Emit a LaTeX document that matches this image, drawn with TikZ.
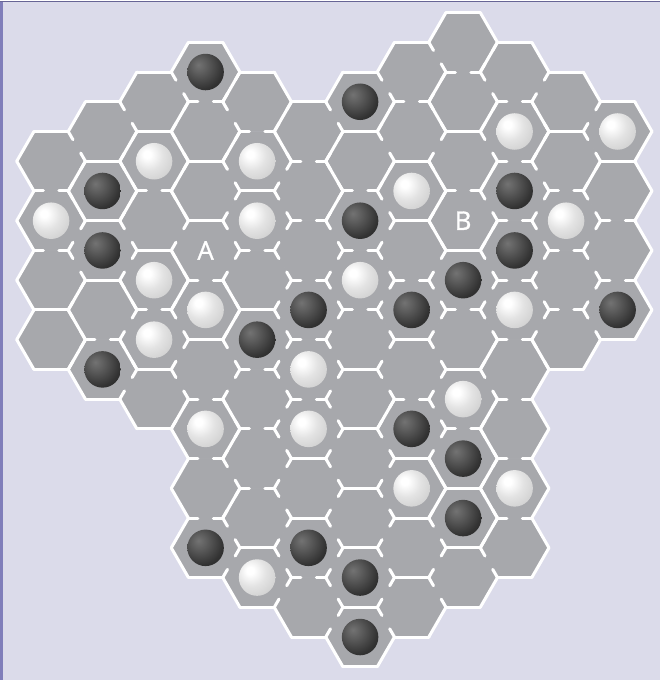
\documentclass[tikz,border=0pt]{standalone}
\usepackage{fontspec}
\newfontfamily\labelfont{Open Sans}[FakeBold=1.2]
\usepackage{tikz}
\usetikzlibrary{calc}
\definecolor{BoardLilac}{RGB}{219,219,234}
\definecolor{FrameLilac}{RGB}{128,126,186}
\definecolor{CellGray}{RGB}{167,168,172}
\pgfdeclareradialshading{blackstone}{\pgfpoint{-10bp}{10bp}}{color(0bp)=(black!55); color(10bp)=(black!63); color(30bp)=(black!80); color(50bp)=(black!90); color(62bp)=(black!93); color(100bp)=(black!93)}
\pgfdeclareradialshading{whitestone}{\pgfpoint{-10bp}{10bp}}{color(0bp)=(white); color(5bp)=(white); color(20bp)=(black!11); color(35bp)=(black!18); color(50bp)=(black!25); color(60bp)=(black!31); color(100bp)=(black!31)}
\tikzset{
  cell/.style={fill=CellGray,draw=CellGray,line width=0.4pt},
  wall/.style={draw=white,line width=2.6pt,line cap=round},
  stubs/.style={wall,dash pattern=on 8.1pt off 13.2pt},
  bstone/.style={circle,inner sep=0pt,minimum size=1.1cm,shade,shading=blackstone},
  wstone/.style={circle,inner sep=0pt,minimum size=1.1cm,shade,shading=whitestone},
  letter/.style={text=white,font=\labelfont\fontsize{22}{22}\selectfont},
}
\def\lolist{{99,4,3,2,1,2,3,2,1,0,1,2,3,99}}
\def\hilist{{-99,10,11,12,17,18,19,20,19,18,17,10,9,-99}}

\begin{document}
\begin{tikzpicture}[x=0.03cm,y=-0.03cm]
\fill[BoardLilac] (0,0) rectangle (662,681);
\draw[FrameLilac,line width=2.2pt] (1.2,0) -- (1.2,681);
\draw[FrameLilac!80!black,line width=0.8pt] (0,0.4) -- (662,0.4);
\useasboundingbox (0,0) rectangle (662,681);

\foreach \c in {1,...,12}{
  \pgfmathtruncatemacro\nlo{\lolist[\c]}
  \pgfmathtruncatemacro\nhi{\hilist[\c]}
  \pgfmathtruncatemacro\nsec{\nlo+2}
  \foreach \n in {\nlo,\nsec,...,\nhi}{
    \coordinate (h\c-\n) at ({50.8+51.7*(\c-1)},{41.15+29.85*\n});
    \fill[cell] (h\c-\n) +(34.47,0) -- +(17.23,29.85) -- +(-17.23,29.85) -- +(-34.47,0)
      -- +(-17.23,-29.85) -- +(17.23,-29.85) -- cycle;
  }
}

\foreach \c in {1,...,12}{
  \pgfmathtruncatemacro\nlo{\lolist[\c]}
  \pgfmathtruncatemacro\nhi{\hilist[\c]}
  \pgfmathtruncatemacro\nsec{\nlo+2}
  \pgfmathtruncatemacro\cR{\c+1}
  \pgfmathtruncatemacro\cL{\c-1}
  \foreach \n in {\nlo,\nsec,...,\nhi}{
    \pgfmathtruncatemacro\hasN{\n-2>=\nlo}
    \pgfmathtruncatemacro\hasS{\n+2<=\nhi}
    \pgfmathtruncatemacro\hasNE{and(\n-1>=\lolist[\cR],\n-1<=\hilist[\cR])}
    \pgfmathtruncatemacro\hasSE{and(\n+1>=\lolist[\cR],\n+1<=\hilist[\cR])}
    \pgfmathtruncatemacro\hasNW{and(\n-1>=\lolist[\cL],\n-1<=\hilist[\cL])}
    \pgfmathtruncatemacro\hasSW{and(\n+1>=\lolist[\cL],\n+1<=\hilist[\cL])}
    \ifnum\hasS=1 \draw[stubs] (h\c-\n) +(17.23,29.85) -- +(-17.23,29.85);
    \else \draw[wall] (h\c-\n) +(17.23,29.85) -- +(-17.23,29.85); \fi
    \ifnum\hasNE=1 \draw[stubs] (h\c-\n) +(17.23,-29.85) -- +(34.47,0);
    \else \draw[wall] (h\c-\n) +(17.23,-29.85) -- +(34.47,0); \fi
    \ifnum\hasSE=1 \draw[stubs] (h\c-\n) +(34.47,0) -- +(17.23,29.85);
    \else \draw[wall] (h\c-\n) +(34.47,0) -- +(17.23,29.85); \fi
    \ifnum\hasN=0 \draw[wall] (h\c-\n) +(-17.23,-29.85) -- +(17.23,-29.85); \fi
    \ifnum\hasNW=0 \draw[wall] (h\c-\n) +(-34.47,0) -- +(-17.23,-29.85); \fi
    \ifnum\hasSW=0 \draw[wall] (h\c-\n) +(-17.23,29.85) -- +(-34.47,0); \fi
  }
}

% full walls: south, north-east, south-east sides
\foreach \c/\n in {1/8,2/3,2/5,2/7,3/2,3/6,3/10,4/3,4/5,4/9,5/4,5/8,5/16,6/13,6/15,
                   7/2,7/10,7/12,7/14,7/16,7/18,8/3,8/5,8/9,8/13,8/15,8/17,
                   9/2,9/6,9/10,9/14,9/16,11/2,12/3}
  \draw[wall] (h\c-\n) +(17.23,29.85) -- +(-17.23,29.85);
\foreach \c/\n in {1/6,1/10,2/5,2/9,2/11,3/4,3/6,3/8,4/9,4/13,5/4,6/5,
                   8/3,8/5,8/7,8/15,9/14,9/16,10/3,10/11}
  \draw[wall] (h\c-\n) +(17.23,-29.85) -- +(34.47,0);
\foreach \c/\n in {1/4,1/8,1/10,2/3,2/5,3/2,3/4,3/8,3/12,4/1,4/3,4/9,4/13,4/15,5/2,6/3,6/5,
                   7/2,7/4,7/12,8/1,8/5,8/15,9/0,9/2,9/4,9/6,9/10,9/12,9/14,9/16,10/3,11/4}
  \draw[wall] (h\c-\n) +(34.47,0) -- +(17.23,29.85);

\foreach \c/\n in {2/5,2/7,2/11,4/1,4/17,5/10,6/9,6/17,7/2,7/6,7/18,7/20,
                   8/9,8/13,9/8,9/14,9/16,10/5,10/7,12/9}
  \node[bstone] (b\c-\n) at (h\c-\n) {};
\foreach \c/\n in {1/6,3/4,3/8,3/10,4/9,4/13,5/4,5/6,5/18,6/11,6/13,7/8,
                   8/5,8/15,9/12,10/3,10/9,10/15,11/6,12/3}
  \node[wstone] (w\c-\n) at (h\c-\n) {};

\node[letter] (lblA) at (h4-7) {A};
\node[letter] (lblB) at (h9-6) {B};
\end{tikzpicture}
\end{document}
